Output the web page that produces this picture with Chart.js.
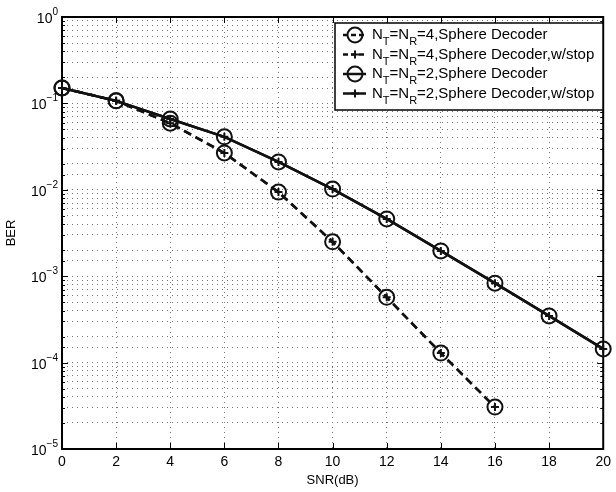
<!DOCTYPE html>
<html>
<head>
<meta charset="utf-8">
<script src="https://cdn.jsdelivr.net/npm/chart.js@4/dist/chart.umd.min.js"></script>
<style>
  html, body { margin: 0; padding: 0; background: #fff; }
</style>
</head>
<body>
<canvas id="ber" width="616" height="492"></canvas>
<script>
// data
var snr4 = [0, 2, 4, 6, 8, 10, 12, 14, 16];
var ber4 = [0.151, 0.107, 0.059, 0.0267, 0.0094, 0.0025, 0.00057, 0.000129, 0.0000306];
var ber4stop = [0.151, 0.107, 0.059, 0.0267, 0.0094, 0.0025, 0.00057, 0.000129, 0.0000306];
var snr2 = [0, 2, 4, 6, 8, 10, 12, 14, 16, 18, 20];
var ber2 = [0.151, 0.107, 0.066, 0.041, 0.021, 0.0102, 0.0046, 0.00196, 0.00083, 0.000347, 0.000144];
var ber2stop = [0.151, 0.107, 0.066, 0.041, 0.021, 0.0102, 0.0046, 0.00196, 0.00083, 0.000347, 0.000144];
var xTicks = [0, 2, 4, 6, 8, 10, 12, 14, 16, 18, 20];
var names = [
  "N_T=N_R=4,Sphere Decoder",
  "N_T=N_R=4,Sphere Decoder,w/stop",
  "N_T=N_R=2,Sphere Decoder",
  "N_T=N_R=2,Sphere Decoder,w/stop"
];

var FONT = "'Liberation Sans', Arial, Helvetica, sans-serif";

function pts(xs, ys) {
  return xs.map(function (x, i) { return { x: x, y: ys[i] }; });
}

function isDecade(v) {
  var e = Math.log10(v);
  return Math.abs(e - Math.round(e)) < 1e-9;
}

// dataset styles
var styles = [
  { dash: [8, 5], pt: "circle", r: 7.5 },
  { dash: [8, 5], pt: "cross", r: 4 },
  { dash: [], pt: "circle", r: 7.5 },
  { dash: [], pt: "cross", r: 4 }
];

function makeSet(i, xs, ys) {
  return {
    label: names[i],
    data: pts(xs, ys),
    borderColor: "#111",
    backgroundColor: "rgba(0,0,0,0)",
    borderWidth: 2.5,
    borderDash: styles[i].dash,
    pointStyle: styles[i].pt,
    pointRadius: styles[i].r,
    pointBorderWidth: 2,
    pointBorderColor: "#111",
    pointBackgroundColor: "rgba(0,0,0,0)",
    clip: false,
    tension: 0
  };
}

// frame + inward ticks + 10^n labels like the original plot
var framePlugin = {
  id: "frame",
  beforeDatasetsDraw: function (chart) {
    var ctx = chart.ctx, a = chart.chartArea;
    var xs = chart.scales.x, ys = chart.scales.y;
    ctx.save();
    ctx.strokeStyle = "#000";
    ctx.lineWidth = 1;
    ctx.setLineDash([]);
    ctx.beginPath();
    ys.ticks.forEach(function (t) {
      var y = Math.round(ys.getPixelForValue(t.value)) + 0.5;
      var len = isDecade(t.value) ? 6 : 3;
      ctx.moveTo(a.left, y); ctx.lineTo(a.left + len, y);
      ctx.moveTo(a.right, y); ctx.lineTo(a.right - len, y);
    });
    xs.ticks.forEach(function (t) {
      var x = Math.round(xs.getPixelForValue(t.value)) + 0.5;
      ctx.moveTo(x, a.bottom); ctx.lineTo(x, a.bottom - 6);
      ctx.moveTo(x, a.top); ctx.lineTo(x, a.top + 6);
    });
    ctx.stroke();
    ctx.lineWidth = 2;
    ctx.strokeRect(a.left, a.top, a.right - a.left, a.bottom - a.top);

    // y labels: "10" with raised exponent
    ctx.fillStyle = "#000";
    ctx.textBaseline = "alphabetic";
    ys.ticks.forEach(function (t) {
      if (!isDecade(t.value)) return;
      var y = ys.getPixelForValue(t.value);
      var ex = String(Math.round(Math.log10(t.value))).replace("-", "\u2212");
      ctx.font = "10px " + FONT;
      var ew = ctx.measureText(ex).width;
      ctx.textAlign = "left";
      var right = a.left - 4;
      ctx.fillText(ex, right - ew, y - 2);
      ctx.font = "14px " + FONT;
      ctx.textAlign = "right";
      ctx.fillText("10", right - ew, y + 6);
    });
    ctx.restore();
  }
};

// legend box inside the plot, with subscripts
var boxLegend = {
  id: "boxLegend",
  afterDraw: function (chart) {
    var ctx = chart.ctx;
    var bx = 335, by = 23, bw = 268, bh = 87;
    ctx.save();
    ctx.fillStyle = "#fff";
    ctx.fillRect(bx, by, bw, bh);
    ctx.strokeStyle = "#000";
    ctx.lineWidth = 1.5;
    ctx.strokeRect(bx, by, bw, bh);
    chart.data.datasets.forEach(function (ds, i) {
      var y = by + 12 + i * 19.5;
      ctx.strokeStyle = "#111";
      ctx.lineWidth = 2.5;
      ctx.setLineDash(i < 2 ? [5, 3] : []);
      ctx.beginPath();
      ctx.moveTo(343, y); ctx.lineTo(366, y);
      ctx.stroke();
      ctx.setLineDash([]);
      ctx.lineWidth = 2;
      ctx.fillStyle = "rgba(0,0,0,0)";
      Chart.helpers.drawPoint(ctx, { pointStyle: ds.pointStyle, radius: ds.pointRadius, borderWidth: 2 }, 355, y);
      // text with _X subscripts
      var x = 372;
      ctx.fillStyle = "#000";
      ctx.textBaseline = "middle";
      var parts = ds.label.split(/(_.)/);
      parts.forEach(function (p) {
        if (p.charAt(0) === "_") {
          ctx.font = "11px " + FONT;
          ctx.fillText(p.charAt(1), x, y + 7);
          x += ctx.measureText(p.charAt(1)).width;
        } else if (p) {
          ctx.font = "15px " + FONT;
          ctx.fillText(p, x, y);
          x += ctx.measureText(p).width;
        }
      });
    });
    ctx.restore();
  }
};

var gridStyle = {
  color: "#777",
  lineWidth: 1,
  drawTicks: false
};

new Chart(document.getElementById("ber"), {
  type: "line",
  data: {
    datasets: [
      makeSet(0, snr4, ber4),
      makeSet(1, snr4, ber4stop),
      makeSet(2, snr2, ber2),
      makeSet(3, snr2, ber2stop)
    ]
  },
  options: {
    responsive: false,
    animation: false,
    layout: { padding: { top: 17, right: 9, left: 0, bottom: 0 } },
    plugins: { legend: { display: false }, tooltip: { enabled: false } },
    scales: {
      x: {
        type: "linear",
        min: 0,
        max: 20,
        afterBuildTicks: function (s) { s.ticks = xTicks.map(function (v) { return { value: v }; }); },
        afterFit: function (s) { s.height = 43; },
        grid: gridStyle,
        border: { display: false, dash: [1, 4] },
        ticks: { color: "#000", font: { family: FONT, size: 14 }, padding: 5, maxRotation: 0 },
        title: { display: true, text: "SNR(dB)", color: "#000", font: { family: FONT, size: 13 }, padding: { top: 0 } }
      },
      y: {
        type: "logarithmic",
        min: 1e-5,
        max: 1,
        afterFit: function (s) { s.width = 62; },
        grid: gridStyle,
        border: { display: false, dash: [1, 4] },
        ticks: {
          autoSkip: false,
          display: false
        },
        title: { display: true, text: "BER", color: "#000", font: { family: FONT, size: 13 }, padding: { bottom: 2 } }
      }
    }
  },
  plugins: [framePlugin, boxLegend]
});
</script>
</body>
</html>
